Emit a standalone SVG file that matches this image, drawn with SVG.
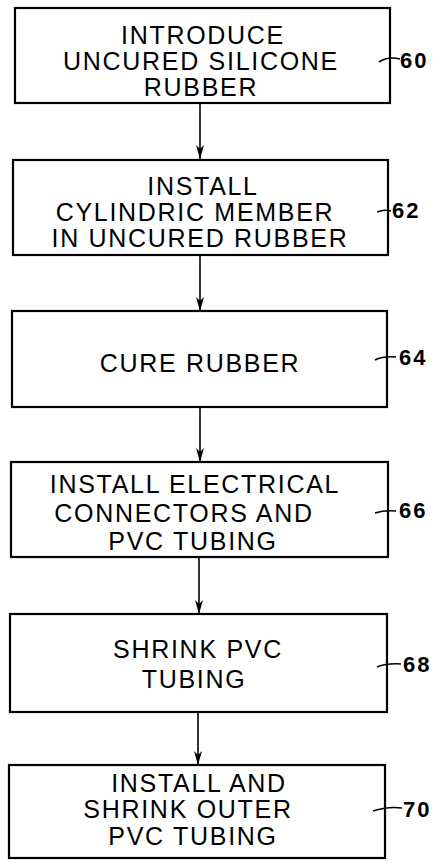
<svg xmlns="http://www.w3.org/2000/svg" width="448" height="863" viewBox="0 0 448 863">
<defs>
<style>
.box{fill:#fff;stroke:#000;stroke-width:2.2}
.t{font-family:"Liberation Sans",Arial,sans-serif;font-size:25px;fill:#000;text-anchor:middle;letter-spacing:1.7px}
.lbl{font-family:"Liberation Sans",Arial,sans-serif;font-size:22px;fill:#000;font-weight:bold;letter-spacing:2px}
.tick{fill:none;stroke:#000;stroke-width:1.6}
.conn{stroke:#000;stroke-width:1.6;fill:none}
</style>
<marker id="ah" viewBox="0 0 14 8" refX="14" refY="4" markerWidth="14" markerHeight="8" markerUnits="userSpaceOnUse" orient="auto">
<path d="M0,0 L14,4 L0,8 L4,4 Z" fill="#000"/>
</marker>
</defs>
<rect width="448" height="863" fill="#fff"/>
<g id="connectors">
<path class="conn" d="M200,104 V159" marker-end="url(#ah)"/>
<path class="conn" d="M200,256 V311" marker-end="url(#ah)"/>
<path class="conn" d="M200,408 V462" marker-end="url(#ah)"/>
<path class="conn" d="M199,558 V614" marker-end="url(#ah)"/>
<path class="conn" d="M198,713 V765" marker-end="url(#ah)"/>
</g>
<g id="n60">
<rect class="box" x="15" y="8" width="375" height="95"/>
<text class="t" x="203" y="44">INTRODUCE</text>
<text class="t" x="201" y="70">UNCURED SILICONE</text>
<text class="t" x="201" y="96">RUBBER</text>
<path class="tick" d="M379,62 Q388,56 400,59"/>
<text class="lbl" x="400" y="68">60</text>
</g>
<g id="n62">
<rect class="box" x="13" y="160" width="375" height="95"/>
<text class="t" x="203" y="195">INSTALL</text>
<text class="t" x="195" y="221">CYLINDRIC MEMBER</text>
<text class="t" x="200" y="247">IN UNCURED RUBBER</text>
<path class="tick" d="M377,212 Q384,209 391,211"/>
<text class="lbl" x="392" y="218">62</text>
</g>
<g id="n64">
<rect class="box" x="12" y="311" width="375" height="96"/>
<text class="t" x="200" y="372">CURE RUBBER</text>
<path class="tick" d="M375,360 Q383,356 396,357"/>
<text class="lbl" x="399" y="365">64</text>
</g>
<g id="n66">
<rect class="box" x="11" y="462" width="377" height="95"/>
<text class="t" x="195" y="493">INSTALL ELECTRICAL</text>
<text class="t" x="184" y="522">CONNECTORS AND</text>
<text class="t" x="193" y="550">PVC TUBING</text>
<path class="tick" d="M375,513 Q384,510 396,511"/>
<text class="lbl" x="399" y="518">66</text>
</g>
<g id="n68">
<rect class="box" x="10" y="614" width="377" height="98"/>
<text class="t" x="198" y="658">SHRINK PVC</text>
<text class="t" x="194" y="688">TUBING</text>
<path class="tick" d="M377,667 Q387,663 401,664"/>
<text class="lbl" x="403" y="672">68</text>
</g>
<g id="n70">
<rect class="box" x="9" y="765" width="376" height="93"/>
<text class="t" x="199" y="792">INSTALL AND</text>
<text class="t" x="188" y="818">SHRINK OUTER</text>
<text class="t" x="193" y="845">PVC TUBING</text>
<path class="tick" d="M373,811 Q388,806 402,808"/>
<text class="lbl" x="403" y="817">70</text>
</g>
</svg>
